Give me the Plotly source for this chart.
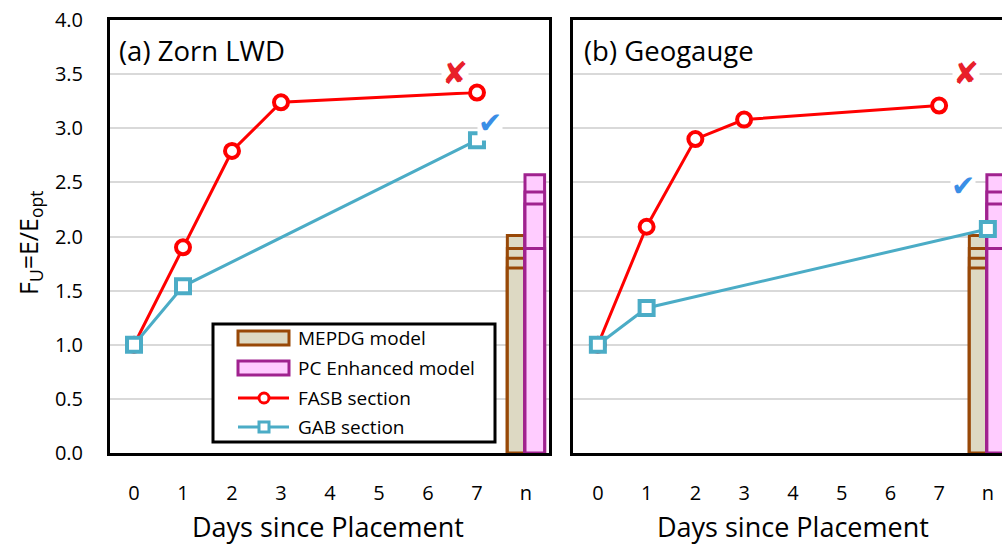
import plotly.graph_objects as go

# ---------------- data ----------------
tick_vals = [0, 1, 2, 3, 4, 5, 6, 7, 8]
tick_text = ["0", "1", "2", "3", "4", "5", "6", "7", "n"]

# Panel (a) Zorn LWD
fasb_a_x = [0, 1, 2, 3, 7]
fasb_a_y = [1.0, 1.90, 2.79, 3.24, 3.33]
gab_a_x = [0, 1, 7]
gab_a_y = [1.0, 1.54, 2.89]

# Panel (b) Geogauge
fasb_b_x = [0, 1, 2, 3, 7]
fasb_b_y = [1.0, 2.09, 2.90, 3.08, 3.21]
gab_b_x = [0, 1, 8]
gab_b_y = [1.0, 1.34, 2.07]

# Model bars at "n" (levels drawn as overlapping bars -> internal lines)
bar_x = [8, 8, 8, 8]
mepdg_levels = [2.01, 1.89, 1.80, 1.71]
pc_levels = [2.57, 2.41, 2.30, 1.89]

# ✗ / ✓ marks (x, y) per panel
cross_a = (6.56, 3.51)
check_a = (7.27, 3.05)
cross_b = (7.55, 3.51)
check_b = (7.49, 2.47)

legend_names = ["MEPDG model", "PC Enhanced model", "FASB section", "GAB section"]

# ---------------- style ----------------
FONT = "Open Sans"
RED = "#ff0000"
TEAL = "#4bacc6"
MEP_LINE, MEP_FILL = "#984807", "#ddd9c3"
PC_LINE, PC_FILL = "#a0228f", "#ffccff"

# plot-area pixel geometry (used for layout placement only)
L, R, T, B = 110, 1002, 20, 453
PW, PH = R - L, B - T


def px(xpix):
    return (xpix - L) / PW


def py(ypix):
    return (B - ypix) / PH


fig = go.Figure()


def add_panel(xa, ya, fx, fy, gx, gy):
    fig.add_trace(go.Bar(x=bar_x, y=mepdg_levels, name=legend_names[0],
                         offset=-0.38, width=0.36,
                         marker=dict(color=MEP_FILL, line=dict(color=MEP_LINE, width=3)),
                         xaxis=xa, yaxis=ya, showlegend=False))
    fig.add_trace(go.Bar(x=bar_x, y=pc_levels, name=legend_names[1],
                         offset=-0.02, width=0.40,
                         marker=dict(color=PC_FILL, line=dict(color=PC_LINE, width=3)),
                         xaxis=xa, yaxis=ya, showlegend=False))
    fig.add_trace(go.Scatter(x=fx, y=fy, name=legend_names[2], mode="lines+markers",
                             line=dict(color=RED, width=3),
                             marker=dict(symbol="circle", size=14, color="white",
                                         line=dict(color=RED, width=4)),
                             xaxis=xa, yaxis=ya, showlegend=False))
    fig.add_trace(go.Scatter(x=gx, y=gy, name=legend_names[3], mode="lines+markers",
                             line=dict(color=TEAL, width=3),
                             marker=dict(symbol="square", size=14, color="white",
                                         line=dict(color=TEAL, width=4)),
                             xaxis=xa, yaxis=ya, showlegend=False))


add_panel("x", "y", fasb_a_x, fasb_a_y, gab_a_x, gab_a_y)
add_panel("x2", "y2", fasb_b_x, fasb_b_y, gab_b_x, gab_b_y)

axis_common = dict(tickvals=tick_vals, ticktext=tick_text, showgrid=False,
                   zeroline=False, showline=True, linecolor="black", linewidth=3,
                   mirror=True, ticks="", ticklabelstandoff=20,
                   tickfont=dict(family=FONT, size=20, color="black"))
yaxis_common = dict(range=[0, 4], dtick=0.5, tick0=0, showgrid=True,
                    gridcolor="#d9d9d9", gridwidth=2, zeroline=False,
                    showline=True, linecolor="black", linewidth=3, ticks="",
                    tickformat=".1f",
                    tickfont=dict(family=FONT, size=20, color="black"))

annotations = [
    dict(text="(a) Zorn LWD", xref="x domain", yref="y domain", x=0.015, y=0.93,
         xanchor="left", yanchor="middle", showarrow=False,
         font=dict(family=FONT, size=27.5, color="black")),
    dict(text="(b) Geogauge", xref="x2 domain", yref="y2 domain", x=0.02, y=0.93,
         xanchor="left", yanchor="middle", showarrow=False,
         font=dict(family=FONT, size=27.5, color="black")),
    dict(text="Days since Placement", xref="paper", yref="paper", x=px(328),
         y=py(526), xanchor="center", yanchor="middle", showarrow=False,
         font=dict(family=FONT, size=27, color="black")),
    dict(text="Days since Placement", xref="paper", yref="paper", x=px(793),
         y=py(526), xanchor="center", yanchor="middle", showarrow=False,
         font=dict(family=FONT, size=27, color="black")),
    dict(text="F<sub>U</sub>=E/E<sub>opt</sub>", xref="paper", yref="paper",
         x=px(30), y=py(243), xanchor="center", yanchor="middle", textangle=-90,
         showarrow=False, font=dict(family=FONT, size=25, color="black")),
]
for (cx, cy), (kx, ky), xr, yr in [(cross_a, check_a, "x", "y"), (cross_b, check_b, "x2", "y2")]:
    annotations.append(dict(text="✘", x=cx, y=cy, xref=xr, yref=yr, showarrow=False,
                            bgcolor="white", borderpad=0,
                            font=dict(family="DejaVu Sans", size=31, color="#e8202a")))
    annotations.append(dict(text="✔", x=kx, y=ky, xref=xr, yref=yr, showarrow=False,
                            bgcolor="white", borderpad=0,
                            font=dict(family="DejaVu Sans", size=29, color="#3a8ee6")))

# ---------------- manual legend (layout placement) ----------------
shapes = [dict(type="rect", xref="paper", yref="paper", x0=px(213), x1=px(495),
               y0=py(442), y1=py(324), line=dict(color="black", width=3),
               fillcolor="white", layer="above")]
row_y = [338, 368, 398, 427]
icon_x0, icon_x1, icon_c = 238, 289, 264
# bar icons
for yy, lc, fc in [(row_y[0], MEP_LINE, MEP_FILL), (row_y[1], PC_LINE, PC_FILL)]:
    shapes.append(dict(type="rect", xref="paper", yref="paper", x0=px(icon_x0), x1=px(icon_x1),
                       y0=py(yy + 7), y1=py(yy - 7), line=dict(color=lc, width=3),
                       fillcolor=fc, layer="above"))
# line icons
for yy, col, kind in [(row_y[2], RED, "circle"), (row_y[3], TEAL, "rect")]:
    shapes.append(dict(type="line", xref="paper", yref="paper", x0=px(icon_x0), x1=px(icon_x1),
                       y0=py(yy), y1=py(yy), line=dict(color=col, width=3), layer="above"))
    shapes.append(dict(type=kind, xref="paper", yref="paper", x0=px(icon_c - 5), x1=px(icon_c + 5),
                       y0=py(yy + 5), y1=py(yy - 5), line=dict(color=col, width=3),
                       fillcolor="white", layer="above"))
for yy, name in zip(row_y, legend_names):
    annotations.append(dict(text=name, xref="paper", yref="paper", x=px(296), y=py(yy),
                            xanchor="left", yanchor="middle", showarrow=False,
                            font=dict(family=FONT, size=19, color="black")))

fig.update_layout(
    width=1002, height=546,
    margin=dict(l=L, r=0, t=T, b=546 - B),
    paper_bgcolor="white", plot_bgcolor="white",
    barmode="overlay",
    xaxis=dict(domain=[0, px(549)], range=[-0.49, 8.47], **axis_common),
    xaxis2=dict(domain=[px(573), 1.0], range=[-0.51, 8.29], **axis_common),
    yaxis=dict(ticklabelstandoff=20, mirror=True, **yaxis_common),
    yaxis2=dict(anchor="x2", showticklabels=False, mirror=False, **yaxis_common),
    annotations=annotations,
    shapes=shapes,
    showlegend=False,
)

fig.write_html("out.html", config={"displayModeBar": False},
               post_script="document.body.style.margin='0';document.body.style.overflow='hidden';")
